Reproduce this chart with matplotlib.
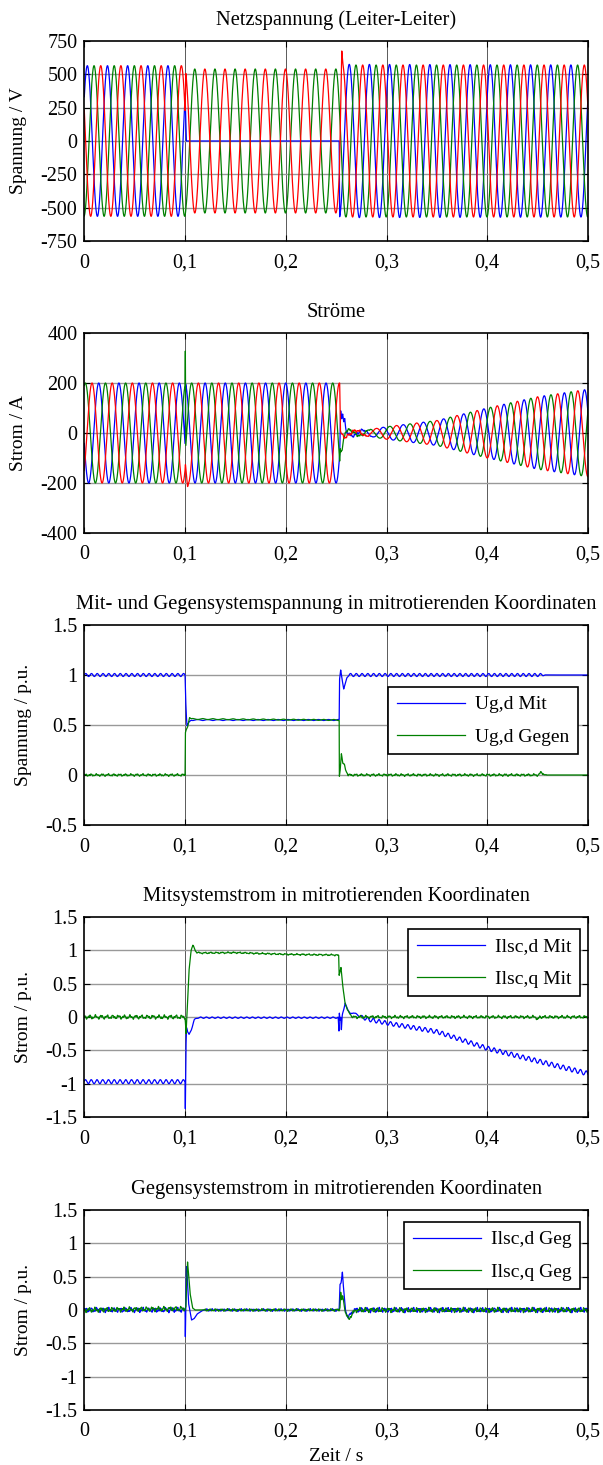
import numpy as np
import matplotlib
matplotlib.use("Agg")
import matplotlib.pyplot as plt
from matplotlib.ticker import FixedLocator, FixedFormatter

plt.rcParams['font.family'] = ['Liberation Serif', 'DejaVu Serif']
plt.rcParams['axes.unicode_minus'] = False

# ---------------- data ----------------
F_GRID = 50.0                     # Hz
T_END = 0.5
T_FAULT_ON = 0.1
T_FAULT_OFF = 0.253

# Panel 1: line-line voltages (peak times of the cosines, s) and envelopes (V)
u_peak_blue = 0.0030
u_peak_green = 0.00967
u_peak_red = 0.01633
u_peak_red_fault = 0.01967        # red in opposition to green during the fault
u_blue_env_t = [0.0, 0.1, 0.1012, 0.253, 0.2535, 0.5]
u_blue_env_v = [565, 565, 0, 0, 575, 570]
u_green_env_t = [0.0, 0.1, 0.101, 0.253, 0.254, 0.5]
u_green_env_v = [565, 565, 540, 540, 570, 570]
u_red_env_t = [0.0, 0.1, 0.1008, 0.2532, 0.2555, 0.5]
u_red_env_v = [565, 565, 0, 0, 570, 570]
u_redf_env_t = [0.1, 0.1008, 0.2532, 0.2555]
u_redf_env_v = [0, 540, 540, 0]
u_red_spike_t = [0.2545, 0.2552, 0.2556, 0.2562, 0.257]
u_red_spike_v = [0, 80, 120, 40, 0]

# Panel 2: currents (peak times in s, envelopes in A)
i_peak_green = 0.0010
i_peak_red = 0.00767
i_peak_blue = 0.01433
i_shift_fault = 0.0056
i_shift_post = 0.0022
i_pre_env_t = [0.0, 0.1, 0.1006]
i_pre_env_v = [200, 200, 0]
i_fault_env_t = [0.1, 0.1006, 0.2535, 0.2542]
i_fault_env_v = [0, 200, 200, 0]
i_post_env_t = [0.2535, 0.2542, 0.257, 0.262, 0.27, 0.28, 0.30, 0.35, 0.40, 0.45, 0.50]
i_post_env_v = [0, 40, 20, 12, 10, 12, 25, 50, 100, 145, 175]
i_green_spike_t = [0.1, 0.1003, 0.1008, 0.2538, 0.2545, 0.256, 0.2575, 0.259]
i_green_spike_v = [0, 270, 0, 0, -40, -50, -25, 0]
i_blue_spike_t = [0.2538, 0.2545, 0.2555, 0.2565, 0.2575, 0.2585, 0.260]
i_blue_spike_v = [0, 60, 30, 55, 25, 35, 0]
i_red_spike_t = [0.1015, 0.1025, 0.1035]
i_red_spike_v = [0, -20, 0]
i_post_jitter_t = [0.2535, 0.256, 0.275, 0.29]
i_post_jitter_v = [0, 8, 6, 0]

# Panel 3: Ug,d Mit / Ug,d Gegen (p.u.)
ugd_mit_t = [0, 0.1, 0.1005, 0.1012, 0.102, 0.104, 0.106, 0.253, 0.2533, 0.2545, 0.2555,
             0.2575, 0.2605, 0.263, 0.5]
ugd_mit_v = [1.0, 1.0, 0.80, 0.60, 0.49, 0.53, 0.55, 0.55, 0.95, 1.05, 0.98,
             0.86, 0.97, 1.0, 1.0]
ugd_geg_t = [0, 0.1, 0.1003, 0.101, 0.1025, 0.1045, 0.106, 0.253, 0.2532, 0.254, 0.2552,
             0.2565, 0.258, 0.2595, 0.262, 0.451, 0.4535, 0.457, 0.5]
ugd_geg_v = [0.0, 0.0, 0.42, 0.45, 0.48, 0.575, 0.56, 0.55, -0.02, 0.05, 0.22,
             0.12, 0.10, 0.05, 0.0, 0.0, 0.03, 0.0, 0.0]
ugd_mit_rip_t = [0, 0.1, 0.1001, 0.262, 0.263, 0.453, 0.458]
ugd_mit_rip_v = [0.015, 0.015, 0.0, 0.0, 0.015, 0.015, 0.0]
ugd_geg_rip_t = [0, 0.1, 0.1001, 0.253, 0.2531, 0.455, 0.46]
ugd_geg_rip_v = [0.012, 0.012, 0.0, 0.0, 0.012, 0.012, 0.0]
ugd_fault_rip_t = [0.1, 0.106, 0.253, 0.2531]
ugd_fault_rip_v = [0.0, 0.005, 0.005, 0.0]

# Panel 4: Ilsc,d Mit / Ilsc,q Mit (p.u.)
ild_t = [0, 0.1, 0.1003, 0.1006, 0.101, 0.1015, 0.1025, 0.104, 0.106, 0.109, 0.112, 0.252,
         0.2528, 0.2532, 0.2538, 0.2545, 0.2552, 0.2558, 0.2562, 0.2575, 0.259, 0.2615,
         0.264, 0.267, 0.27, 0.28, 0.30, 0.35, 0.40, 0.45, 0.50]
ild_v = [-0.97, -0.97, -1.37, -0.9, -0.4, -0.15, -0.22, -0.27, -0.2, -0.05, -0.01, -0.01,
         -0.22, 0.05, -0.05, 0.0, -0.18, 0.0, 0.05, 0.10, 0.20, 0.12,
         0.04, 0.07, 0.04, -0.03, -0.09, -0.22, -0.47, -0.66, -0.85]
ilq_t = [0, 0.1, 0.1005, 0.101, 0.1015, 0.104, 0.106, 0.1077, 0.110, 0.1115, 0.115, 0.15,
         0.2, 0.25, 0.2525, 0.253, 0.254, 0.2548, 0.2555, 0.257, 0.259, 0.262, 0.266,
         0.27, 0.448, 0.45, 0.452, 0.5]
ilq_v = [0.0, 0.0, -0.1, -0.25, -0.1, 0.7, 1.0, 1.075, 1.0, 0.97, 0.96, 0.965,
         0.94, 0.93, 0.92, 0.63, 0.70, 0.74, 0.62, 0.40, 0.20, 0.08, 0.0,
         0.0, 0.0, -0.04, 0.0, 0.0]
ild_rip_t = [0, 0.1, 0.1002, 0.27, 0.28, 0.5]
ild_rip_v = [0.03, 0.03, 0.01, 0.01, 0.03, 0.035]
ilq_rip_t = [0, 0.1, 0.1002, 0.265, 0.27, 0.5]
ilq_rip_v = [0.03, 0.03, 0.012, 0.012, 0.022, 0.022]

# Panel 5: Ilsc,d Geg / Ilsc,q Geg (p.u.)
ildg_t = [0, 0.1, 0.1003, 0.1008, 0.1012, 0.1016, 0.1035, 0.1065, 0.109, 0.112, 0.118,
          0.253, 0.2538, 0.2548, 0.2562, 0.2572, 0.2592, 0.2614, 0.2635, 0.268, 0.5]
ildg_v = [0, 0.0, -0.4, 0.0, 0.55, 0.65, 0.1, -0.15, -0.13, -0.06, 0.0,
          0.0, 0.38, 0.42, 0.57, 0.35, 0.0, -0.1, -0.08, 0.0, 0.0]
ilqg_t = [0, 0.1, 0.1008, 0.1018, 0.1025, 0.1035, 0.105, 0.1075, 0.11, 0.253, 0.2538,
          0.2545, 0.2555, 0.2565, 0.259, 0.2625, 0.266, 0.27, 0.5]
ilqg_v = [0, 0.02, 0.05, 0.5, 0.72, 0.55, 0.25, 0.03, 0.0, 0.0, 0.05,
          0.26, 0.15, 0.2, -0.02, -0.15, -0.05, 0.0, 0.0]
ilg_rip_t = [0, 0.1, 0.1001, 0.118, 0.12, 0.253, 0.27, 0.5]
ilg_rip_v = [0.035, 0.035, 0.0, 0.0, 0.018, 0.018, 0.035, 0.035]

F_RIPPLE = 175.0
F_RIPPLE_FAULT = 100.0

# ---------------- helpers ----------------
t = np.linspace(0.0, T_END, 25001)

def env(tb, vb):
    return np.interp(t, tb, vb)

def cosw(tpk):
    return np.cos(2 * np.pi * F_GRID * (t - tpk))

def rip(f, ph=0.0):
    return np.sin(2 * np.pi * f * t + ph)

def texture(p):
    return 0.6 * rip(F_RIPPLE, p) + 0.35 * rip(410.0, 2 * p + 1) + 0.25 * rip(730.0, 3 * p + 2)

# voltages
u_blue = env(u_blue_env_t, u_blue_env_v) * cosw(u_peak_blue)
u_green = env(u_green_env_t, u_green_env_v) * cosw(u_peak_green)
u_red = (env(u_red_env_t, u_red_env_v) * cosw(u_peak_red)
         + env(u_redf_env_t, u_redf_env_v) * cosw(u_peak_red_fault)
         + env(u_red_spike_t, u_red_spike_v))

# currents
def current(tpk, sp_t, sp_v, ph):
    return (env(i_pre_env_t, i_pre_env_v) * cosw(tpk)
            + env(i_fault_env_t, i_fault_env_v) * cosw(tpk + i_shift_fault)
            + env(i_post_env_t, i_post_env_v) * cosw(tpk + i_shift_post)
            + env(sp_t, sp_v)
            + env(i_post_jitter_t, i_post_jitter_v) * texture(ph))

i_blue = current(i_peak_blue, i_blue_spike_t, i_blue_spike_v, 0.5)
i_green = current(i_peak_green, i_green_spike_t, i_green_spike_v, 1.7)
i_red = current(i_peak_red, i_red_spike_t, i_red_spike_v, 2.9)

# dq quantities
s_ugd_mit = (env(ugd_mit_t, ugd_mit_v) + env(ugd_mit_rip_t, ugd_mit_rip_v) * rip(F_RIPPLE)
             + env(ugd_fault_rip_t, ugd_fault_rip_v) * rip(F_RIPPLE_FAULT))
s_ugd_geg = (env(ugd_geg_t, ugd_geg_v) + env(ugd_geg_rip_t, ugd_geg_rip_v) * texture(0.7)
             - env(ugd_fault_rip_t, ugd_fault_rip_v) * rip(F_RIPPLE_FAULT))
s_ild = (env(ild_t, ild_v) + env(ild_rip_t, ild_rip_v) * rip(F_RIPPLE, 0.3))
s_ilq = env(ilq_t, ilq_v) + env(ilq_rip_t, ilq_rip_v) * texture(1.9)
s_ildg = env(ildg_t, ildg_v) + env(ilg_rip_t, ilg_rip_v) * texture(0.4)
s_ilqg = env(ilqg_t, ilqg_v) + env(ilg_rip_t, ilg_rip_v) * texture(2.6)

# ---------------- figure ----------------
W, H = 603, 1465
fig = plt.figure(figsize=(W / 100, H / 100), dpi=100)
left_px, right_px = 84.3, 588.0
tops_px = [41, 333, 625, 917, 1210]
ax_h_px = 200

BLUE = (0, 0, 1)
GREEN = (0, 0.5, 0)
RED = (1, 0, 0)
FS_TICK = 14.5
FS_TITLE = 14.8
FS_LABEL = 14
FS_LEG = 14

xticks = [0, 0.1, 0.2, 0.3, 0.4, 0.5]
xlabels = ['0', '0,1', '0,2', '0,3', '0,4', '0,5']

def make_axes(k, title, ylabel, yticks, ylabels, ylim):
    top = tops_px[k]
    ax = fig.add_axes([left_px / W, 1 - (top + ax_h_px) / H,
                       (right_px - left_px) / W, ax_h_px / H])
    ax.set_xlim(0, T_END)
    ax.set_ylim(*ylim)
    ax.xaxis.set_major_locator(FixedLocator(xticks))
    ax.xaxis.set_major_formatter(FixedFormatter(xlabels))
    ax.yaxis.set_major_locator(FixedLocator(yticks))
    ax.yaxis.set_major_formatter(FixedFormatter(ylabels))
    ax.tick_params(direction='in', top=True, right=True, length=4, width=0.8,
                   labelsize=FS_TICK)
    ax.tick_params(axis='x', pad=9)
    ax.tick_params(axis='y', pad=5)
    for sp in ax.spines.values():
        sp.set_linewidth(1.2)
    for x in xticks[1:-1]:
        ax.axvline(x, color='0.35', lw=0.7, zorder=0)
    for y in yticks[1:-1]:
        ax.axhline(y, color='0.6', lw=1.0, zorder=0)
    ax.set_title(title, fontsize=FS_TITLE, pad=11.5)
    ax.set_ylabel(ylabel, fontsize=FS_LABEL, labelpad=9.5)
    return ax

LW = 0.9

ax1 = make_axes(0, 'Netzspannung (Leiter-Leiter)', 'Spannung / V',
                [-750, -500, -250, 0, 250, 500, 750],
                ['-750', '-500', '-250', '0', '250', '500', '750'], (-750, 750))
ax1.plot(t, u_blue, color=BLUE, lw=LW)
ax1.plot(t, u_green, color=GREEN, lw=LW)
ax1.plot(t, u_red, color=RED, lw=LW)

ax2 = make_axes(1, 'Ströme', 'Strom / A', [-400, -200, 0, 200, 400],
                ['-400', '-200', '0', '200', '400'], (-400, 400))
ax2.plot(t, i_blue, color=BLUE, lw=LW)
ax2.plot(t, i_green, color=GREEN, lw=LW)
ax2.plot(t, i_red, color=RED, lw=LW)

leg_kw = dict(loc='upper right', fontsize=FS_LEG, fancybox=False, framealpha=1,
              edgecolor='black', borderaxespad=0, handlelength=3.5,
              handletextpad=0.5, labelspacing=0.75, borderpad=0.45)

ax3 = make_axes(2, 'Mit- und Gegensystemspannung in mitrotierenden Koordinaten',
                'Spannung / p.u.', [-0.5, 0, 0.5, 1, 1.5],
                ['-0.5', '0', '0.5', '1', '1.5'], (-0.5, 1.5))
ax3.plot(t, s_ugd_mit, color=BLUE, lw=LW, label='Ug,d Mit')
ax3.plot(t, s_ugd_geg, color=GREEN, lw=LW, label='Ug,d Gegen')
lg = ax3.legend(bbox_to_anchor=(0.98, 0.69), **leg_kw)
lg.get_frame().set_linewidth(1.2)

p5ticks = [-1.5, -1, -0.5, 0, 0.5, 1, 1.5]
p5labels = ['-1.5', '-1', '-0.5', '0', '0.5', '1', '1.5']

ax4 = make_axes(3, 'Mitsystemstrom in mitrotierenden Koordinaten', 'Strom / p.u.',
                p5ticks, p5labels, (-1.5, 1.5))
ax4.plot(t, s_ild, color=BLUE, lw=LW, label='Ilsc,d Mit')
ax4.plot(t, s_ilq, color=GREEN, lw=LW, label='Ilsc,q Mit')
lg = ax4.legend(bbox_to_anchor=(0.984, 0.94), **leg_kw)
lg.get_frame().set_linewidth(1.2)

ax5 = make_axes(4, 'Gegensystemstrom in mitrotierenden Koordinaten', 'Strom / p.u.',
                p5ticks, p5labels, (-1.5, 1.5))
ax5.plot(t, s_ildg, color=BLUE, lw=LW, label='Ilsc,d Geg')
ax5.plot(t, s_ilqg, color=GREEN, lw=LW, label='Ilsc,q Geg')
lg = ax5.legend(bbox_to_anchor=(0.984, 0.94), **leg_kw)
lg.get_frame().set_linewidth(1.2)
ax5.set_xlabel('Zeit / s', fontsize=FS_LABEL, labelpad=5)

fig.savefig('out.png', dpi=100)
